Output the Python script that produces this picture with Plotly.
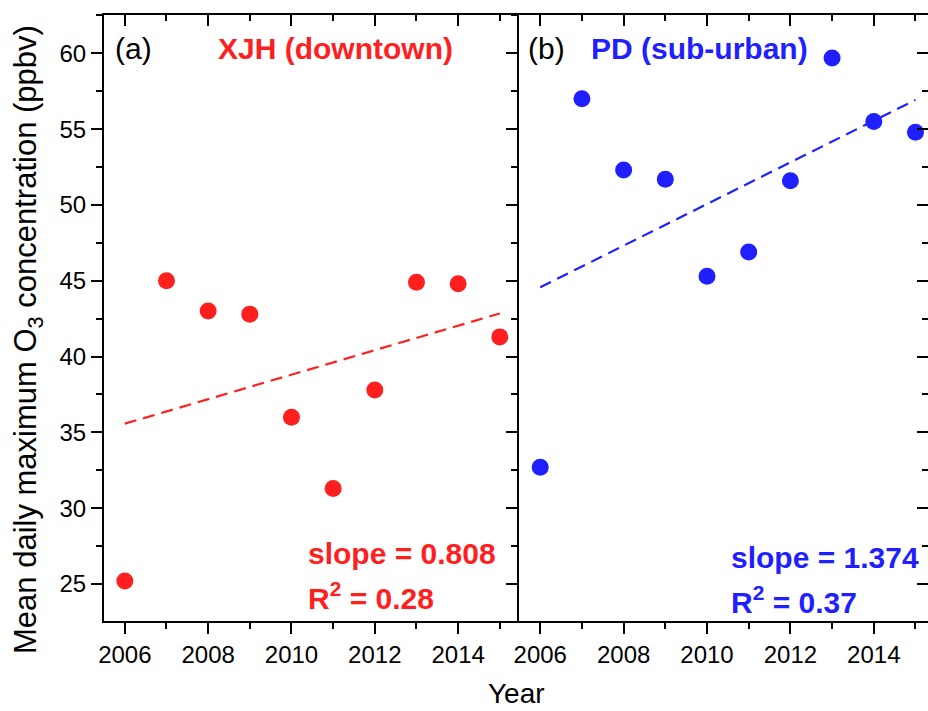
import numpy as np
import plotly.graph_objects as go

years = [2006, 2007, 2008, 2009, 2010, 2011, 2012, 2013, 2014, 2015]
xjh_o3 = [25.2, 45.0, 43.0, 42.8, 36.0, 31.3, 37.8, 44.9, 44.8, 41.3]
pd_o3 = [32.7, 57.0, 52.3, 51.7, 45.3, 46.9, 51.6, 59.7, 55.5, 54.8]

panel_labels = ["(a)", "(b)"]
site_names = ["XJH (downtown)", "PD (sub-urban)"]
slope_texts = ["slope = 0.808", "slope = 1.374"]
r2_texts = ["R<sup>2</sup> = 0.28", "R<sup>2</sup> = 0.37"]

red = "#ff1f1f"
blue = "#1f1fff"
font = "Liberation Sans, Arial, sans-serif"

fig = go.Figure()

# scatter points + linear fits
for i, (vals, col) in enumerate([(xjh_o3, red), (pd_o3, blue)]):
    xa = "x" if i == 0 else "x2"
    ya = "y" if i == 0 else "y2"
    fig.add_trace(go.Scatter(x=years, y=vals, mode="markers", xaxis=xa, yaxis=ya,
                             marker=dict(size=17, color=col), showlegend=False))
    k, b = np.polyfit(years, vals, 1)
    xs = [years[0], years[-1]]
    fig.add_trace(go.Scatter(x=xs, y=[k * v + b for v in xs], mode="lines",
                             xaxis=xa, yaxis=ya, showlegend=False,
                             line=dict(color=col, width=2.2, dash="12px,7px")))

# empty traces so the overlay tick axes get drawn
for xa, ya in [("x3", "y"), ("x4", "y2"), ("x2", "y3")]:
    fig.add_trace(go.Scatter(x=[None], y=[None], xaxis=xa, yaxis=ya, showlegend=False))

xr1 = [2005.5, 2015.46]
xr2 = [2005.49, 2015.3]
yr = [22.56, 62.53]
split = 0.5036

tickfont = dict(family=font, size=24, color="black")
xcommon = dict(tickmode="linear", tick0=2006, dtick=2, ticks="outside", ticklen=11,
               tickwidth=2, tickcolor="black", linecolor="black", linewidth=2,
               showgrid=False, zeroline=False, tickfont=tickfont, automargin=False,
               minor=dict(dtick=1, tick0=2006, ticks="outside", ticklen=6,
                          tickwidth=2, tickcolor="black"))
xtop = dict(tickmode="linear", tick0=2006, dtick=2, ticks="inside", ticklen=11,
            tickwidth=2, tickcolor="black", showline=False, showgrid=False,
            zeroline=False, showticklabels=False, side="top", automargin=False,
            minor=dict(dtick=1, tick0=2006, ticks="inside", ticklen=6,
                       tickwidth=2, tickcolor="black"))
ycommon = dict(range=yr, tickmode="linear", tick0=25, dtick=5, ticks="outside", ticklen=11,
               tickwidth=2, tickcolor="black", linecolor="black", linewidth=2,
               showgrid=False, zeroline=False, tickfont=tickfont, automargin=False,
               minor=dict(dtick=2.5, tick0=25, ticks="outside", ticklen=6,
                          tickwidth=2, tickcolor="black"))

fig.update_layout(
    width=928, height=711,
    margin=dict(l=104, r=0, t=15, b=90),
    plot_bgcolor="white", paper_bgcolor="white",
    font=dict(family=font, color="black"),
    xaxis=dict(xcommon, domain=[0, split], range=xr1, anchor="y", mirror=True, showline=True),
    xaxis2=dict(xcommon, domain=[split, 1], range=xr2, anchor="y2", mirror=True, showline=True),
    xaxis3=dict(xtop, range=xr1, overlaying="x", anchor="y"),
    xaxis4=dict(xtop, range=xr2, overlaying="x2", anchor="y2"),
    yaxis=dict(ycommon, anchor="x", showline=True),
    yaxis2=dict(ycommon, anchor="x2", showline=True, showticklabels=False),
    yaxis3=dict(ycommon, anchor="x2", overlaying="y2", side="right", ticks="inside",
                showline=False, showticklabels=False,
                minor=dict(dtick=2.5, tick0=25, ticks="inside", ticklen=6,
                           tickwidth=2, tickcolor="black")),
)

annos = []
label_x = [2005.72, 2005.66]
site_x = [2008.19, 2007.18]
stat_x = [2010.35, 2010.53]
slope_y = [26.98, 26.74]
r2_y = [24.18, 23.96]
for i, col in enumerate([red, blue]):
    xr = "x" if i == 0 else "x2"
    yr_ = "y" if i == 0 else "y2"
    annos.append(dict(x=label_x[i], y=60.33, xref=xr, yref=yr_, text=panel_labels[i],
                      showarrow=False, xanchor="left", yanchor="middle",
                      font=dict(family=font, size=30, color="black")))
    annos.append(dict(x=site_x[i], y=60.33, xref=xr, yref=yr_, text="<b>%s</b>" % site_names[i],
                      showarrow=False, xanchor="left", yanchor="middle",
                      font=dict(family=font, size=30, color=col)))
    annos.append(dict(x=stat_x[i], y=slope_y[i], xref=xr, yref=yr_, text="<b>%s</b>" % slope_texts[i],
                      showarrow=False, xanchor="left", yanchor="middle",
                      font=dict(family=font, size=30, color=col)))
    annos.append(dict(x=stat_x[i], y=r2_y[i], xref=xr, yref=yr_, text="<b>%s</b>" % r2_texts[i],
                      showarrow=False, xanchor="left", yanchor="middle",
                      font=dict(family=font, size=30, color=col)))

# axis titles as annotations for exact placement
annos.append(dict(x=0.5, y=0, xref="paper", yref="paper", yshift=-55, text="Year",
                  showarrow=False, xanchor="center", yanchor="top",
                  font=dict(family=font, size=28, color="black")))
annos.append(dict(x=0, y=0.4637, xref="paper", yref="paper", xshift=-76,
                  text="Mean daily maximum O<sub>3</sub> concentration (ppbv)",
                  textangle=-90, showarrow=False, xanchor="center", yanchor="middle",
                  font=dict(family=font, size=31, color="black")))
fig.update_layout(annotations=annos)

fig.write_html("out.html", config={"displayModeBar": False},
               post_script="document.body.style.margin='0';")
